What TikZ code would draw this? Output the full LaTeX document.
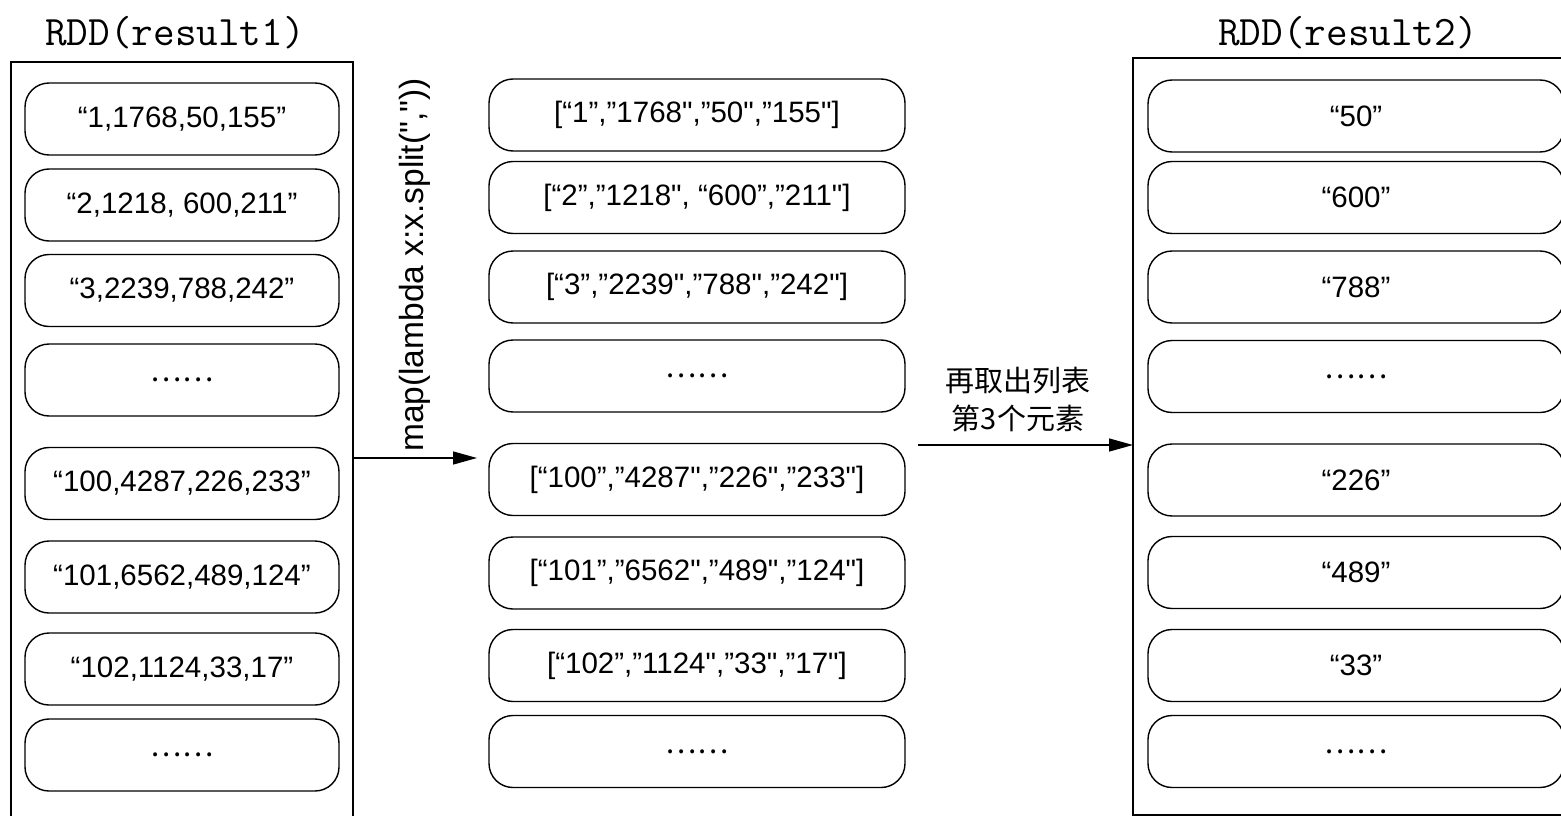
\documentclass[tikz,border=0pt]{standalone}
\usepackage{fontspec}
\setmainfont{Liberation Sans}[Ligatures=TeXOff]
\newfontfamily\cjk{Noto Sans CJK SC}
\usetikzlibrary{arrows.meta}
\tikzset{rdd/.style={draw,line width=1.5pt,outer sep=0pt},
         elem/.style={draw,line width=1.4pt,rounded corners=24pt,minimum height=72pt,inner sep=0pt,outer sep=0pt,font=\fontsize{29.5}{35}\selectfont},
         lelem/.style={elem,minimum width=314pt},
         relem/.style={elem,minimum width=416pt},
         title/.style={font=\ttfamily\fontsize{42}{42}\selectfont},
         >={Triangle[length=24pt,width=13pt]},
        }
\newcommand{\more}{{\cjk ……}}

\begin{document}
\begin{tikzpicture}[x=1pt,y=-1pt]
        \useasboundingbox(0,0)rectangle(1561,816);
        \node[title](t1)at(175,33){RDD(result1)};
        \node[title](t2)at(1348,33){RDD(result2)};
        \node[rdd,minimum width=342pt,minimum height=768pt](r1)at(182,446){};
        \node[rdd,minimum width=447pt,minimum height=757pt](r2)at(1356.5,436.5){};

        \node[lelem](l1)at(182,119){“1,1768,50,155”};
        \node[lelem](l2)at(182,205){“2,1218, 600,211”};
        \node[lelem](l3)at(182,290.5){“3,2239,788,242”};
        \node[lelem](l4)at(182,380){\more};
        \node[lelem](l5)at(182,483.5){“100,4287,226,233”};
        \node[lelem](l6)at(182,577){“101,6562,489,124”};
        \node[lelem](l7)at(182,669){“102,1124,33,17”};
        \node[lelem](l8)at(182,755){\more};

        \node[relem](m1)at(697,115){[“1”,”1768",”50",”155"]};
        \node[relem](m2)at(697,197.5){[“2”,”1218", “600”,”211"]};
        \node[relem](m3)at(697,287){[“3”,”2239",”788",”242"]};
        \node[relem](m4)at(697,376){\more};
        \node[relem](m5)at(697,479.5){[“100”,”4287",”226",”233"]};
        \node[relem](m6)at(697,573){[“101”,”6562",”489",”124"]};
        \node[relem](m7)at(697,665.5){[“102”,”1124",”33",”17"]};
        \node[relem](m8)at(697,751.5){\more};

        \node[relem](s1)at(1356,116){“50”};
        \node[relem](s2)at(1356,197.5){“600”};
        \node[relem](s3)at(1356,287){“788”};
        \node[relem](s4)at(1356,376.5){\more};
        \node[relem](s5)at(1356,480){“226”};
        \node[relem](s6)at(1356,572.5){“489”};
        \node[relem](s7)at(1356,665.5){“33”};
        \node[relem](s8)at(1356,751.5){\more};

        \node[rotate=90,font=\fontsize{33.5}{40}\selectfont](map)at(415,265){map(lambda x:x.split(","))};
        \node[align=center,font=\cjk\fontsize{29}{38}\selectfont](take)at(1018,399){再取出列表\\第3个元素};

        \coordinate(a1)at(477,458);
        \coordinate(a2)at(918,445);
        \draw[->,line width=1.3pt](r1.east|-a1)--(a1);
        \draw[->,line width=1.3pt](a2)--(r2.west|-a2);
\end{tikzpicture}
\end{document}
